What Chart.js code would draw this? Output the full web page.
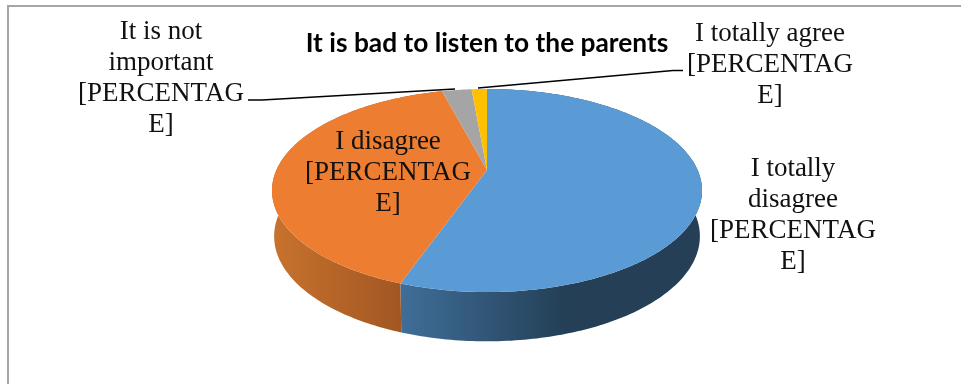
<!DOCTYPE html>
<html>
<head>
<meta charset="utf-8">
<script src="https://cdn.jsdelivr.net/npm/chart.js@4"></script>
<style>
  html, body { margin: 0; padding: 0; background: #fff; overflow: hidden; }
  #frame { position: absolute; left: 7px; top: 5px; width: 1000px; height: 500px; border: 2px solid #a6a6a6; box-sizing: border-box; }
  #wrap { position: absolute; left: 0; top: 0; width: 961px; height: 384px; }
</style>
</head>
<body>
<div id="frame"></div>
<div id="wrap"><canvas id="pie"></canvas></div>
<script>
const categories = ["I totally disagree", "I disagree", "It is not important", "I totally agree"]
const shares = [55.4, 40.5, 2.7, 1.4]
const sliceColors = ["#5b9bd5", "#ed7d31", "#a5a5a5", "#ffc000"]

// text of the data labels, wrapped the way the picture wraps them
const labelLines = [
    ["I totally", "disagree", "[PERCENTAG", "E]"],
    ["I disagree", "[PERCENTAG", "E]"],
    ["It is not", "important", "[PERCENTAG", "E]"],
    ["I totally agree", "[PERCENTAG", "E]"]
]
const labelSpots = [[793, 169], [388, 142], [161, 32], [770, 34]]

// perspective of the tilted disc, relative to the outer radius
const tilt = { k: 0.202, a: 2.106, b: 0.974, drop: 45, wallA: 0.99, wallB: 1.035 }

function rimPoint(arc, angle, wall) {
    const u = Math.cos(angle), v = Math.sin(angle)
    const w = 1 - tilt.k * v
    const sa = wall ? tilt.wallA : 1, sb = wall ? tilt.wallB : 1
    return [
        arc.x + arc.outerRadius * tilt.a * sa * u / w,
        arc.y + arc.outerRadius * tilt.b * sb * v / w + (wall ? tilt.drop : 0)
    ]
}

function traceRim(ctx, arc, from, to, wall) {
    const steps = Math.max(4, Math.ceil(Math.abs(to - from) * 60))
    for (let i = 0; i <= steps; i++) {
        const p = rimPoint(arc, from + (to - from) * i / steps, wall)
        ctx.lineTo(p[0], p[1])
    }
}

// the library keeps angles and radius, only the outline gets tilted
Chart.ArcElement.prototype.draw = function(ctx) {
    ctx.save()
    ctx.fillStyle = this.options.backgroundColor
    ctx.beginPath()
    ctx.moveTo(this.x, this.y)
    traceRim(ctx, this, this.startAngle, this.endAngle, false)
    ctx.closePath()
    ctx.fill()
    ctx.restore()
}

const wallPlugin = {
    id: "wall",
    beforeDatasetsDraw(chart) {
        const ctx = chart.ctx
        const arcs = chart.getDatasetMeta(0).data
        const fills = [
            [400, 702, [[0, "#3f6e99"], [0.55, "#243f56"], [1, "#243f56"]]],
            [272, 400, [[0, "#c8722e"], [1, "#a25722"]]]
        ]
        fills.forEach((f, i) => {
            const arc = arcs[i]
            const g = ctx.createLinearGradient(f[0], 0, f[1], 0)
            f[2].forEach(s => g.addColorStop(s[0], s[1]))
            ctx.save()
            ctx.fillStyle = g
            ctx.beginPath()
            const start = rimPoint(arc, arc.startAngle, false)
            ctx.moveTo(start[0], start[1])
            traceRim(ctx, arc, arc.startAngle, arc.endAngle, false)
            traceRim(ctx, arc, arc.endAngle, arc.startAngle, true)
            ctx.closePath()
            ctx.fill()
            ctx.restore()
        })
    }
}

const labelPlugin = {
    id: "sliceLabels",
    afterDatasetsDraw(chart) {
        const ctx = chart.ctx
        ctx.save()
        // leader lines of the two thin slices
        ctx.strokeStyle = "#000"
        ctx.lineWidth = 1.4
        ctx.beginPath()
        ctx.moveTo(248, 100); ctx.lineTo(262, 100); ctx.lineTo(455, 89)
        ctx.moveTo(478, 88); ctx.lineTo(673, 70.5); ctx.lineTo(683, 70.5)
        ctx.stroke()
        ctx.fillStyle = "#111"
        ctx.font = "27px 'Liberation Serif'"
        ctx.textAlign = "center"
        ctx.textBaseline = "middle"
        labelLines.forEach((lines, i) => {
            lines.forEach((line, j) => ctx.fillText(line, labelSpots[i][0], labelSpots[i][1] + j * 31))
        })
        ctx.restore()
    }
}

new Chart(document.getElementById("pie"), {
    type: "pie",
    data: {
        labels: categories,
        datasets: [{ data: shares, backgroundColor: sliceColors, borderWidth: 0 }]
    },
    options: {
        responsive: true,
        maintainAspectRatio: false,
        animation: false,
        layout: { padding: { left: 13, right: 0, top: 0, bottom: 114 } },
        plugins: {
            legend: { display: false },
            tooltip: { enabled: false },
            title: {
                display: true,
                text: "It is bad to listen to the parents",
                color: "#000",
                font: { family: "Lato", size: 26.3, weight: "bold", lineHeight: 1 },
                padding: { top: 30, bottom: 13.7 }
            }
        }
    },
    plugins: [wallPlugin, labelPlugin]
})
</script>
</body>
</html>
